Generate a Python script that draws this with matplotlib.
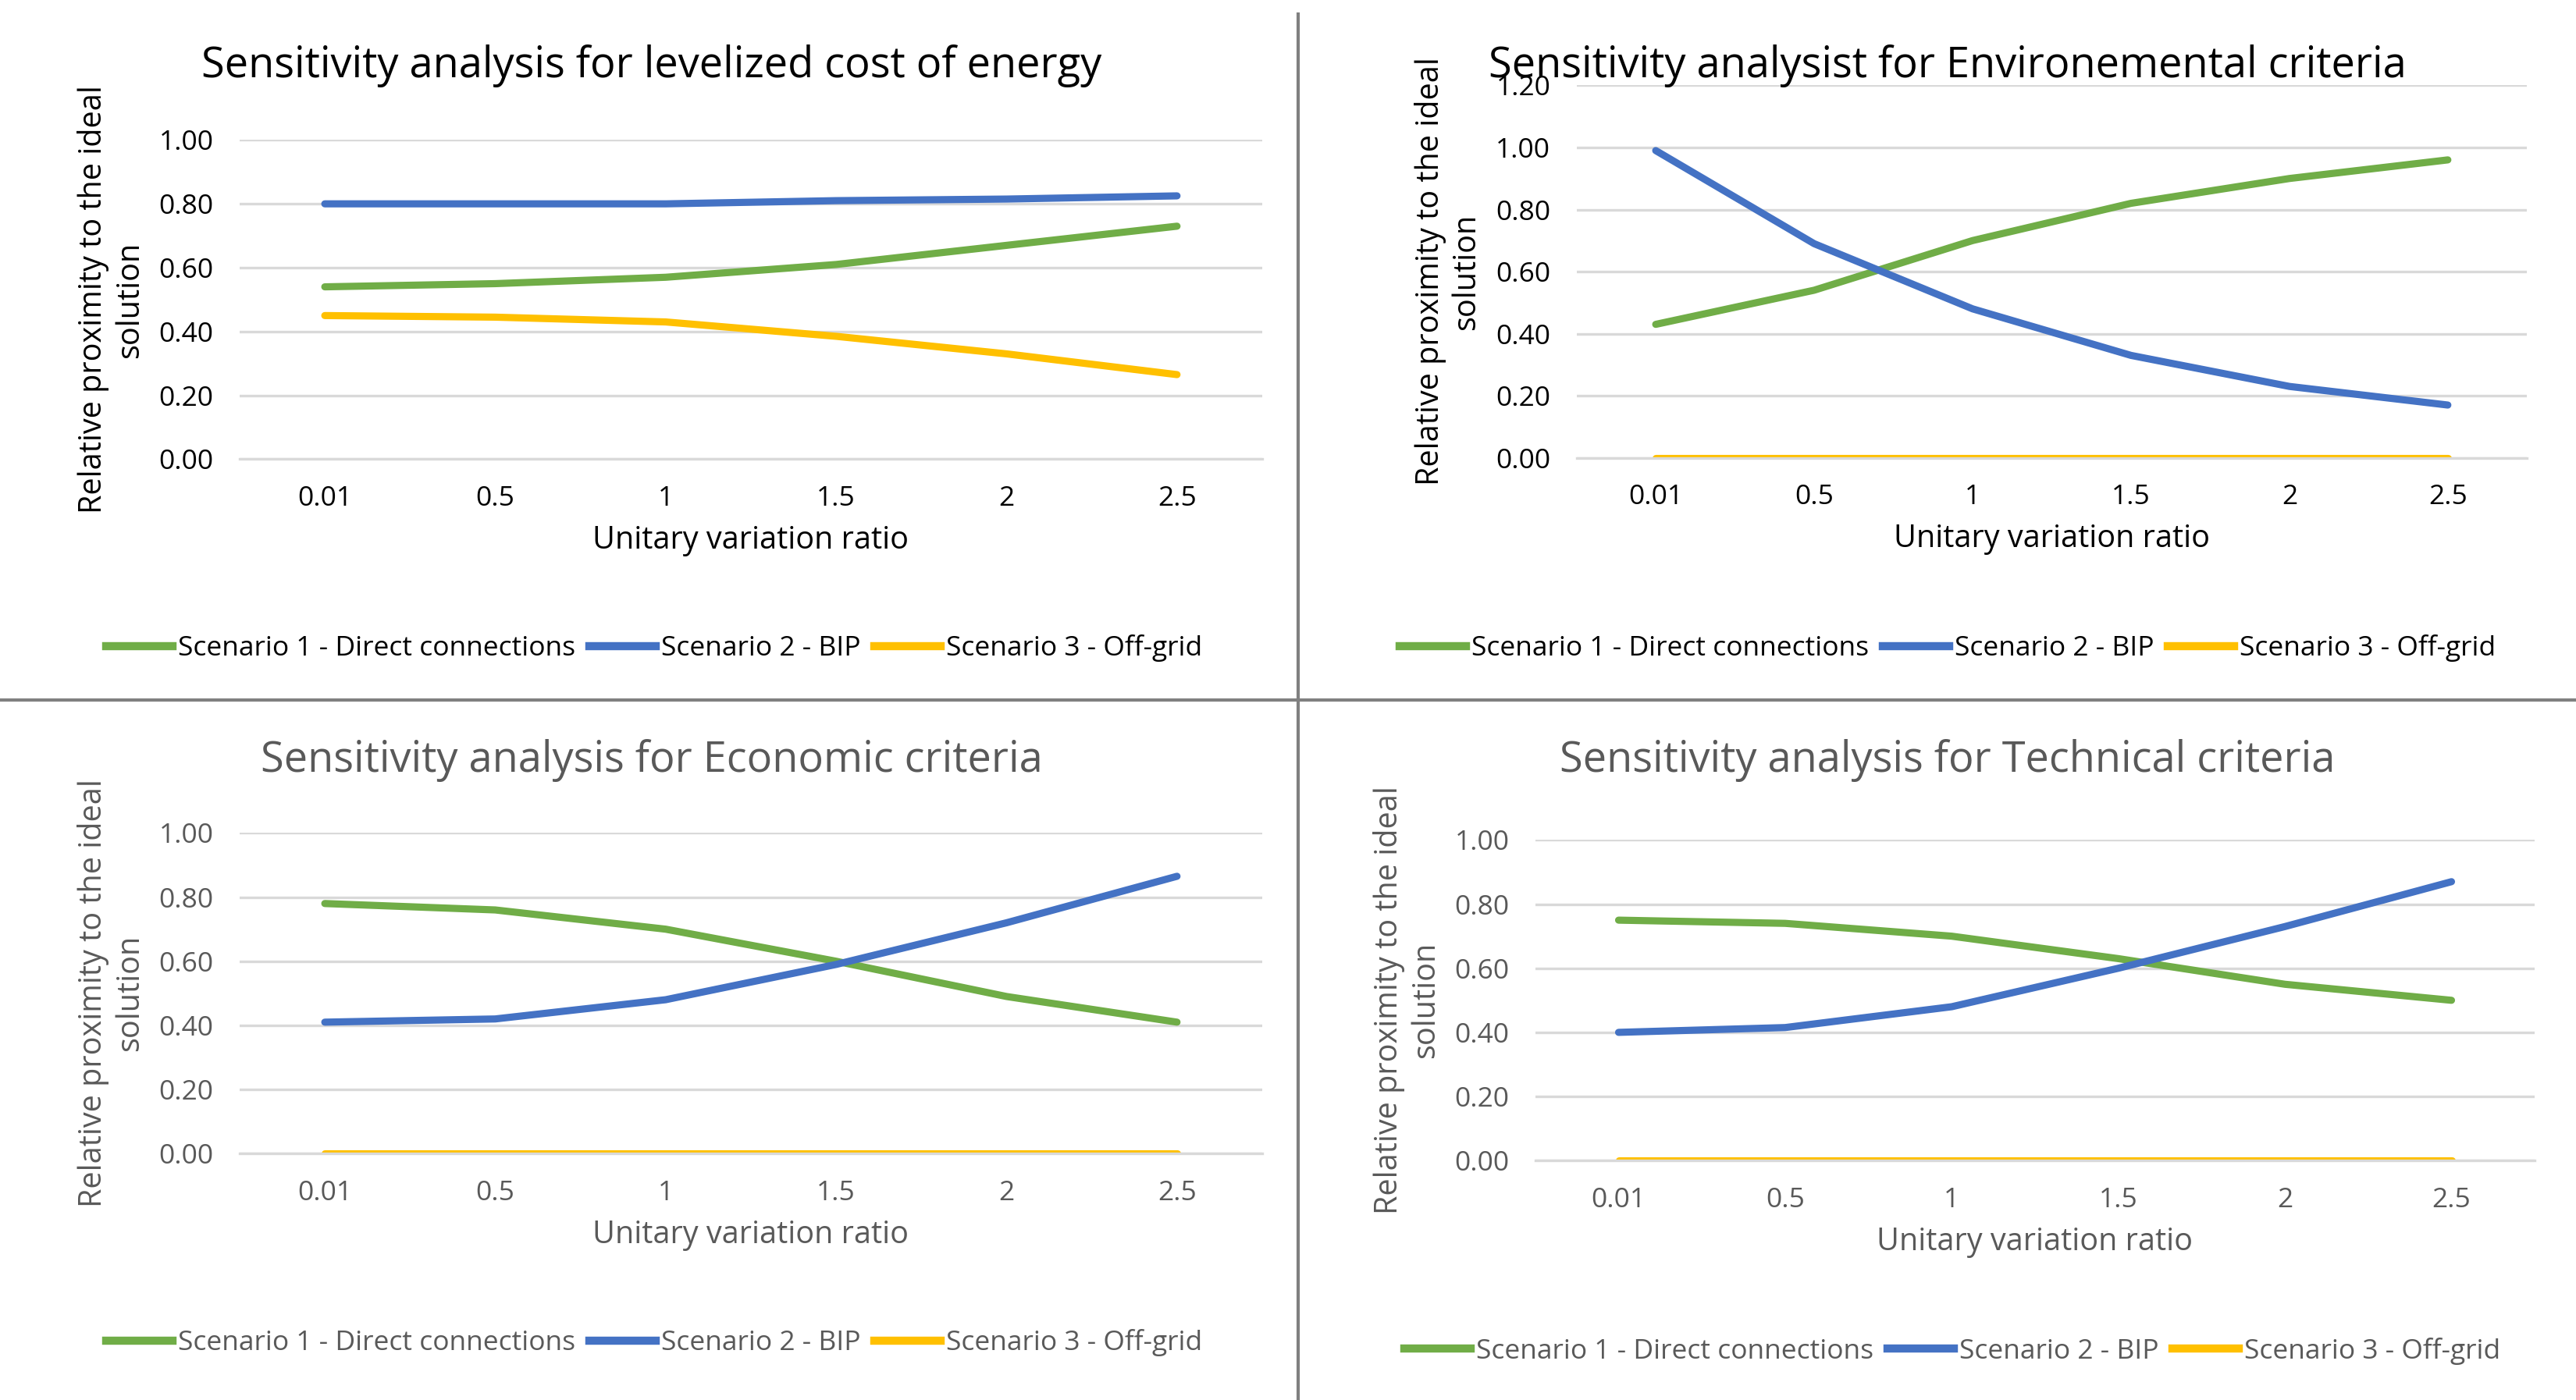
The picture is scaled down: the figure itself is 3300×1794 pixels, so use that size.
import matplotlib.pyplot as plt
from matplotlib.lines import Line2D

plt.rcParams['font.family'] = ['Open Sans', 'DejaVu Sans']

x_labels = ['0.01', '0.5', '1', '1.5', '2', '2.5']
series_names = ['Scenario 1 - Direct connections', 'Scenario 2 - BIP', 'Scenario 3 - Off-grid']
colors = ['#70AD47', '#4472C4', '#FFC000']

lcoe_s1 = [0.54, 0.55, 0.57, 0.61, 0.67, 0.73]
lcoe_s2 = [0.80, 0.80, 0.80, 0.81, 0.815, 0.825]
lcoe_s3 = [0.45, 0.445, 0.43, 0.385, 0.33, 0.265]

env_s1 = [0.43, 0.54, 0.70, 0.82, 0.90, 0.96]
env_s2 = [0.99, 0.69, 0.48, 0.33, 0.23, 0.17]
env_s3 = [0, 0, 0, 0, 0, 0]

eco_s1 = [0.78, 0.76, 0.70, 0.60, 0.49, 0.41]
eco_s2 = [0.41, 0.42, 0.48, 0.59, 0.72, 0.865]
eco_s3 = [0, 0, 0, 0, 0, 0]

tech_s1 = [0.75, 0.74, 0.70, 0.63, 0.55, 0.50]
tech_s2 = [0.40, 0.415, 0.48, 0.60, 0.73, 0.87]
tech_s3 = [0, 0, 0, 0, 0, 0]

fig = plt.figure(figsize=(11, 5.98), dpi=300)

# title, data, ymax, axes position, text colour, title (x, y), legend (x, y)
panels = [
    ('Sensitivity analysis for levelized cost of energy', [lcoe_s1, lcoe_s2, lcoe_s3], 1.0,
     [0.093, 0.672, 0.397, 0.228], 'black', (0.253, 0.953), (0.254, 0.537)),
    ('Sensitivity analysist for Environemental criteria', [env_s1, env_s2, env_s3], 1.2,
     [0.612, 0.673, 0.369, 0.266], 'black', (0.756, 0.953), (0.756, 0.537)),
    ('Sensitivity analysis for Economic criteria', [eco_s1, eco_s2, eco_s3], 1.0,
     [0.093, 0.176, 0.397, 0.229], '#595959', (0.253, 0.457), (0.254, 0.041)),
    ('Sensitivity analysis for Technical criteria', [tech_s1, tech_s2, tech_s3], 1.0,
     [0.596, 0.171, 0.388, 0.229], '#595959', (0.756, 0.457), (0.758, 0.035)),
]

for title, data, ymax, pos, tc, tpos, lpos in panels:
    ax = fig.add_axes(pos)
    xs = range(len(x_labels))
    for vals, c in zip(data, colors):
        ax.plot(xs, vals, color=c, linewidth=2.2, solid_capstyle='round')
    ax.set_xlim(-0.5, len(x_labels) - 0.5)
    ax.set_ylim(0, ymax)
    ticks = [i * 0.2 for i in range(int(round(ymax / 0.2)) + 1)]
    ax.set_yticks(ticks)
    ax.set_yticklabels([f'{t:.2f}' for t in ticks])
    ax.set_xticks(list(xs))
    ax.set_xticklabels(x_labels)
    ax.grid(axis='y', color='#D9D9D9', linewidth=0.8)
    ax.set_axisbelow(True)
    for s in ax.spines.values():
        s.set_visible(False)
    ax.spines['bottom'].set_visible(True)
    ax.spines['bottom'].set_color('#D9D9D9')
    ax.tick_params(length=0, labelsize=8.5, labelcolor=tc, pad=8)
    fig.text(tpos[0], tpos[1], title, fontsize=13, color=tc, ha='center', va='center')
    ax.set_xlabel('Unitary variation ratio', fontsize=9.5, color=tc)
    ax.set_ylabel('Relative proximity to the ideal\nsolution', fontsize=9.5, color=tc)
    handles = [Line2D([], [], color=c, linewidth=2.5) for c in colors]
    fig.legend(handles, series_names, loc='center', bbox_to_anchor=lpos, ncol=3,
               frameon=False, fontsize=8.5, handlelength=2.4, handletextpad=0.2,
               columnspacing=0.5, labelcolor=tc)

# separators between panels
fig.add_artist(Line2D([0.504, 0.504], [0.0, 0.99], color='#808080', linewidth=1))
fig.add_artist(Line2D([0.0, 1.0], [0.5, 0.5], color='#808080', linewidth=1))

fig.savefig('out.png', dpi=300, facecolor='white')
